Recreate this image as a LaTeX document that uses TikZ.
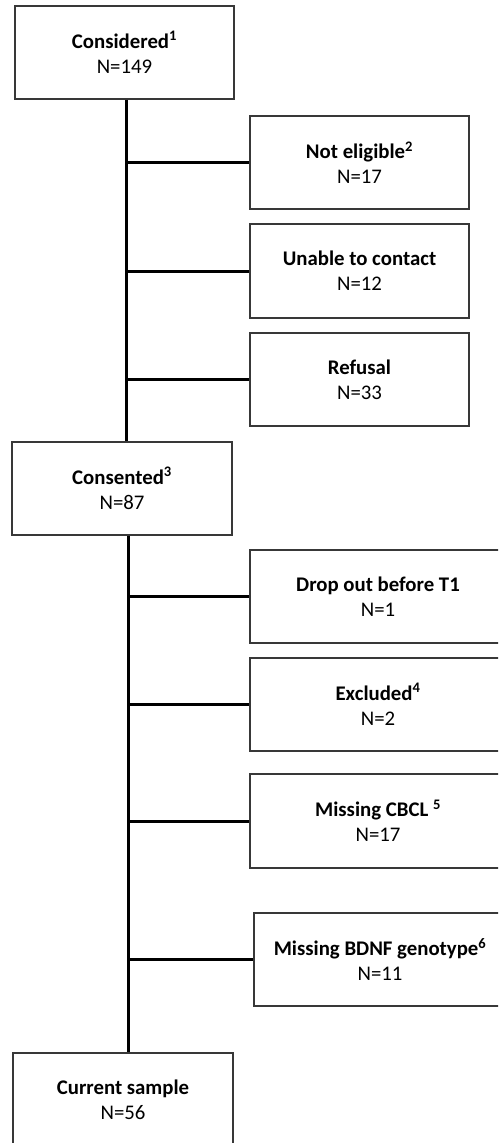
\documentclass[tikz,border=0pt]{standalone}
\usepackage{fontspec}
\setmainfont{Carlito}
\begin{document}
\begin{tikzpicture}[x=1pt,y=-1pt,
  box/.style={draw=black!78,line width=1.3pt,align=center,inner sep=0pt,
    font=\fontsize{20.8}{25}\selectfont},
  trunk/.style={line width=3pt,black},
  branch/.style={line width=3pt,black}]
\useasboundingbox (0,0) rectangle (498,1143);
\clip (0,0) rectangle (498,1143);
\node[box,minimum width=219pt,minimum height=93pt] (considered) at (124.5,52.5) {\textbf{Considered\textsuperscript{1}}\\N=149};
\node[box,minimum width=219pt,minimum height=93pt] (noteligible) at (359.5,162.5) {\textbf{Not eligible\textsuperscript{2}}\\N=17};
\node[box,minimum width=219pt,minimum height=94pt] (unable) at (359.5,271) {\textbf{Unable to contact}\\N=12};
\node[box,minimum width=219pt,minimum height=93pt] (refusal) at (359.5,379.5) {\textbf{Refusal}\\N=33};
\node[box,minimum width=220pt,minimum height=93pt] (consented) at (122,488.5) {\textbf{Consented\textsuperscript{3}}\\N=87};
\node[box,minimum width=256pt,minimum height=93pt] (dropout) at (378,596.5) {\textbf{Drop out before T1}\\N=1};
\node[box,minimum width=256pt,minimum height=93pt] (excluded) at (378,704.5) {\textbf{Excluded\textsuperscript{4}}\\N=2};
\node[box,minimum width=256pt,minimum height=94pt] (cbcl) at (378,821) {\textbf{Missing CBCL \textsuperscript{5}}\\N=17};
\node[box,minimum width=252pt,minimum height=93pt] (bdnf) at (380,959.5) {\textbf{Missing BDNF genotype\textsuperscript{6}}\\N=11};
\node[box,minimum width=220pt,minimum height=93pt] (current) at (123,1099.5) {\textbf{Current sample}\\N=56};
\coordinate (ta) at (126,0);
\coordinate (tb) at (128,0);
\draw[trunk] (considered.south -| ta) -- (consented.north -| ta);
\draw[trunk] (consented.south -| tb) -- (current.north -| tb);
\foreach \b in {noteligible,unable,refusal}
  \draw[branch] (\b.west -| ta) -- (\b.west);
\foreach \b in {dropout,excluded,cbcl,bdnf}
  \draw[branch] (\b.west -| tb) -- (\b.west);
\end{tikzpicture}
\end{document}
